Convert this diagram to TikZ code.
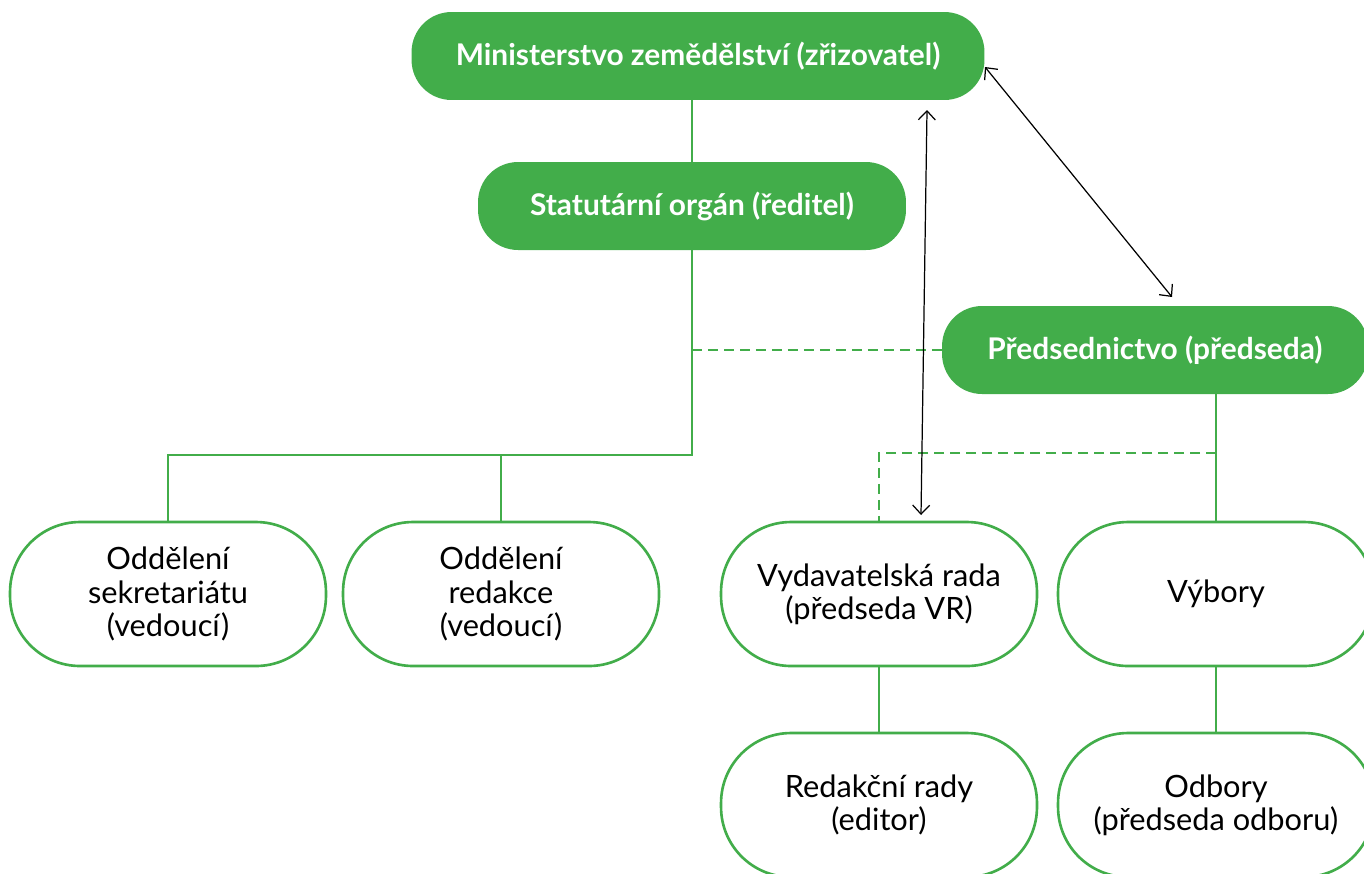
\documentclass[tikz,border=0pt]{standalone}
\usepackage{fontspec}
\setmainfont{Lato}
\usetikzlibrary{arrows.meta}
\definecolor{leaf}{HTML}{42AD4A}
\begin{document}
\begin{tikzpicture}[x=0.02cm, y=-0.02cm,
    head/.style={fill=leaf, text=white, font=\fontsize{17}{20}\selectfont\bfseries,
      minimum height=1.76cm, rounded corners=0.8cm, inner sep=0pt},
    unit/.style={draw=leaf, line width=1.5pt, fill=white, align=center,
      font=\fontsize{17.5}{19}\selectfont, minimum width=6.32cm,
      minimum height=2.88cm, rounded corners=1.4cm, inner sep=0pt},
    tree/.style={leaf, line width=1.4pt},
    link/.style={leaf, line width=1.4pt, dash pattern=on 0.2cm off 0.12cm},
    both/.style={black, line width=0.7pt, {Straight Barb[length=0.18cm,width=0.34cm]}-{Straight Barb[length=0.18cm,width=0.34cm]}}]
    \useasboundingbox (0,0) rectangle (1364,873);

    % top management
    \node[head, minimum width=11.46cm] (min) at (698,56) {Ministerstvo zemědělství (zřizovatel)};
    \node[head, minimum width=8.56cm] (stat) at (692,206) {Statutární orgán (ředitel)};
    \node[head, minimum width=8.52cm] (pred) at (1155,350) {Předsednictvo (předseda)};

    % departments
    \node[unit] (sek) at (168,594) {Oddělení\\sekretariátu\\(vedoucí)};
    \node[unit] (red) at (501,594) {Oddělení\\redakce\\(vedoucí)};
    \node[unit] (vyd) at (879,594) {Vydavatelská rada\\(předseda VR)};
    \node[unit] (vyb) at (1216,594) {Výbory};
    \node[unit] (redr) at (879,805) {Redakční rady\\(editor)};
    \node[unit] (odb) at (1216,805) {Odbory\\(předseda odboru)};

    % green tree
    \coordinate (split) at (692,455);
    \coordinate (split2) at (1216,453);
    \draw[tree] (min.south -| stat.north) -- (stat.north);
    \draw[tree] (stat.south) -- (split) -| (sek.north);
    \draw[tree] (split -| red.north) -- (red.north);
    \draw[tree] (pred.south -| vyb.north) -- (vyb.north);
    \draw[tree] (vyd.south) -- (redr.north);
    \draw[tree] (vyb.south) -- (odb.north);
    \draw[link] (stat.south |- pred.west) -- (pred.west);
    \draw[link] (split2) -| (vyd.north);

    % black links
    \coordinate (a1) at (927,110);
    \coordinate (a2) at (921,515);
    \coordinate (b1) at (985,67);
    \coordinate (b2) at (1172,297);
    \draw[both] (a1) -- (a2);
    \draw[both] (b1) -- (b2);
\end{tikzpicture}
\end{document}
